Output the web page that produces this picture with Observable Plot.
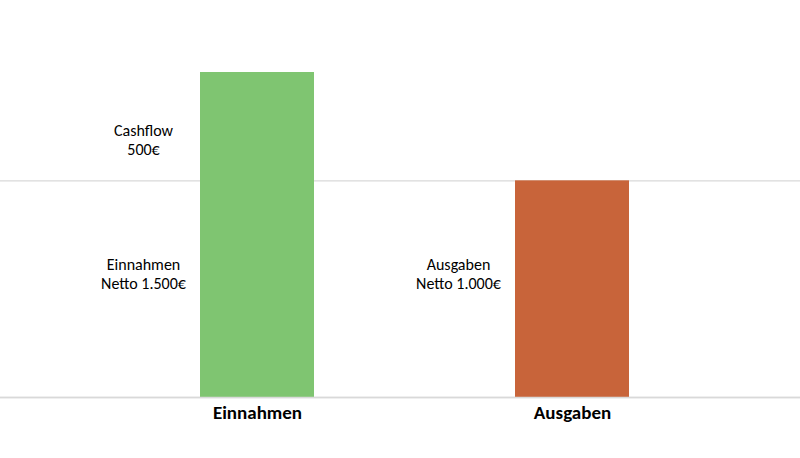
<!DOCTYPE html>
<html>
<head>
<meta charset="utf-8">
<script src="https://cdn.jsdelivr.net/npm/d3@7"></script>
<script src="https://cdn.jsdelivr.net/npm/@observablehq/plot@0.6"></script>
<style>
  html, body { margin: 0; padding: 0; background: #fff; }
  #chart svg { display: block; }
</style>
</head>
<body>
<div id="chart"></div>
<script>
const categories = ["Einnahmen", "Ausgaben"];
const values = [1500, 1000];
const colors = ["#7fc571", "#c8643a"];
const gridTicks = [0, 1000];
const netLabels = ["Einnahmen\nNetto 1.500€", "Ausgaben\nNetto 1.000€"];
const cashflowLabel = "Cashflow\n500€";

const bars = categories.map((c, i) => ({category: c, value: values[i], color: colors[i]}));
const netData = categories.map((c, i) => ({category: c, value: values[1] / 2, text: netLabels[i]}));
const cashData = [{category: categories[0], value: (values[0] + values[1]) / 2, text: cashflowLabel}];

const font = "Carlito, Lato, 'Open Sans', sans-serif";

const chart = Plot.plot({
  width: 800,
  height: 458,
  marginLeft: 0,
  marginRight: 0,
  marginTop: 0,
  marginBottom: 0,
  style: {fontFamily: font, background: "#fff"},
  x: {domain: categories, range: [100, 730], paddingInner: 0.638, paddingOuter: 0.319, axis: null},
  y: {domain: [0, 1500], range: [397, 72], axis: null},
  marks: [
    Plot.ruleY(gridTicks, {stroke: "#d9d9d9", strokeWidth: 1.3}),
    Plot.barY(bars, {x: "category", y: "value", fill: "color"}),
    Plot.ruleY([0], {stroke: "#d9d9d9", strokeWidth: 1.3}),
    Plot.text(cashData, {x: "category", y: "value", text: "text", dx: -114, dy: 13, fontSize: 16, lineHeight: 1.2, fill: "#000"}),
    Plot.text(netData, {x: "category", y: "value", text: "text", dx: -114, dy: -16, fontSize: 16, lineHeight: 1.2, fill: "#000"}),
    Plot.text(bars, {x: "category", y: 0, text: "category", dy: 15, fontSize: 19, fontWeight: "bold", fill: "#000"})
  ]
});
document.getElementById("chart").appendChild(chart);
</script>
</body>
</html>
